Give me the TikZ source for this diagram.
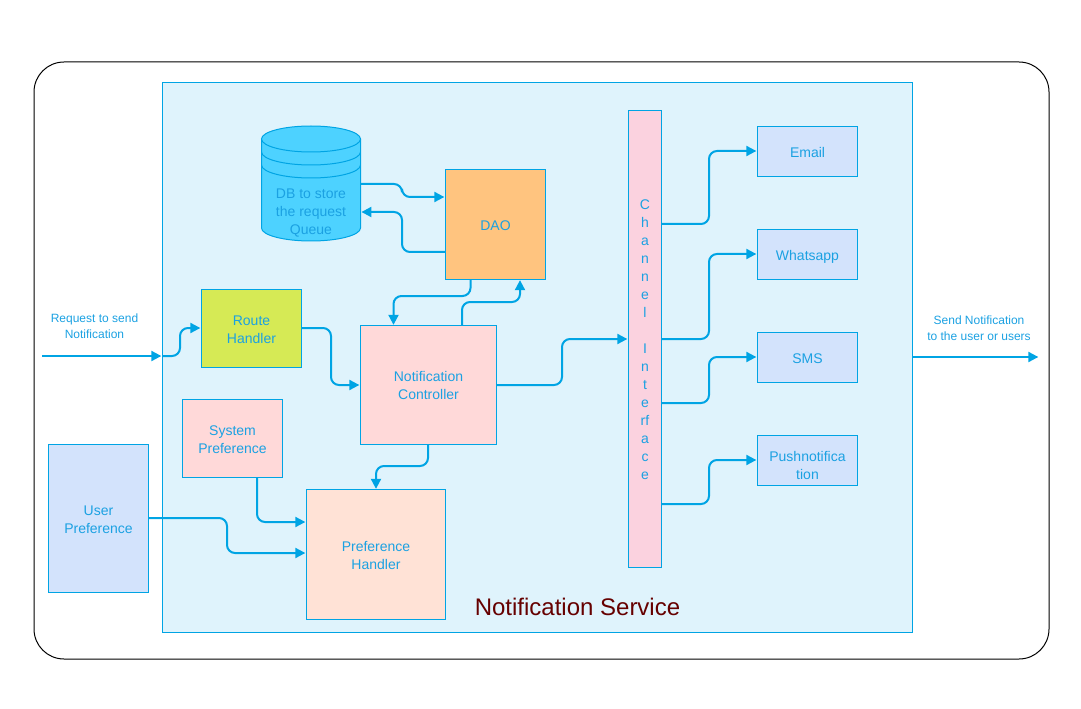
\documentclass[tikz,border=0pt]{standalone}
\usepackage{fontspec}
\setmainfont{Liberation Sans}
\usetikzlibrary{arrows.meta}
\definecolor{linkblue}{HTML}{00A4E4}
\definecolor{textblue}{HTML}{1BA1E2}
\definecolor{servicebg}{HTML}{DFF3FC}
\definecolor{dbfill}{HTML}{4DD2FF}
\definecolor{routefill}{HTML}{D6EA55}
\definecolor{pinkfill}{HTML}{FFD9D9}
\definecolor{daofill}{HTML}{FFC47F}
\definecolor{peachfill}{HTML}{FFE2D6}
\definecolor{channelfill}{HTML}{FBD2DF}
\definecolor{bluefill}{HTML}{D3E3FC}
\definecolor{titlered}{HTML}{660000}
\newcommand{\ls}{\rule[-2.36pt]{0pt}{13.5pt}}
\tikzset{
        boxtext/.style={align=center, text=textblue, inner sep=0pt,
                font=\fontsize{10.5}{13.5}\selectfont},
        box/.style={boxtext, draw=linkblue, line width=0.75pt},
        outbox/.style={box, fill=bluefill, minimum width=75pt, minimum height=37.5pt},
        smalllabel/.style={align=center, text=textblue, inner sep=0pt,
                font=\fontsize{9}{12}\selectfont},
        link/.style={draw=linkblue, line width=1.5pt, rounded corners=6pt,
                -{Triangle[length=7.5pt,width=7.5pt]}, shorten >=0.5pt}
}
\begin{document}
\begin{tikzpicture}[x=0.75pt, y=-0.75pt]
        \useasboundingbox (0,0) rectangle (1081,709);

        \node [draw=black, line width=0.75pt, rounded corners=22.5pt, minimum width=761.25pt, minimum height=447.75pt, inner sep=0pt] (outer) at (541.5,360.5) {};
        \node [box, fill=servicebg, minimum width=562.5pt, minimum height=412.5pt] (service) at (537.5,357.5) {};
        \node [text=titlered, inner sep=0pt, font=\fontsize{18}{22}\selectfont] (title) at (577.5,606.5) {Notification Service};

        % database drawn by hand
        \node [minimum width=74.25pt, minimum height=86.25pt, inner sep=0pt] (db) at (311,184) {};
        \draw [draw=linkblue, line width=0.75pt, fill=dbfill] (261.5,139) -- (261.5,228) arc [start angle=180, end angle=0, x radius=49.5, y radius=13] -- (360.5,139);
        \draw [draw=linkblue, line width=0.75pt, fill=dbfill] (311,139) ellipse [x radius=49.5, y radius=13];
        \draw [draw=linkblue, line width=0.75pt] (261.5,152) arc [start angle=180, end angle=0, x radius=49.5, y radius=13];
        \draw [draw=linkblue, line width=0.75pt] (261.5,165) arc [start angle=180, end angle=0, x radius=49.5, y radius=13];
        \node [boxtext] (dblabel) at (311,211) {\ls DB to store\\the request\\Queue\ls};

        \node [box, fill=daofill, minimum width=75pt, minimum height=82.5pt] (dao) at (495.5,224.5) {\ls DAO};
        \node [box, fill=routefill, minimum width=75pt, minimum height=58.5pt] (route) at (251.5,328.5) {\ls Route\\Handler\ls};
        \node [box, fill=pinkfill, minimum width=102pt, minimum height=89.25pt] (controller) at (428.5,385) {\ls Notification\\Controller\ls};
        \node [box, fill=pinkfill, minimum width=75pt, minimum height=58.5pt] (system) at (232.5,438.5) {\ls System\\Preference\ls};
        \node [box, fill=bluefill, minimum width=75pt, minimum height=111pt] (user) at (98.5,518.5) {\ls User\\Preference\ls};
        \node [box, fill=peachfill, minimum width=104.25pt, minimum height=97.5pt] (prefhandler) at (376,554.5) {\ls Preference\\Handler\ls};
        \node [box, fill=channelfill, minimum width=24.75pt, minimum height=342.75pt] (channel) at (645,339) {\ls C\\h\\a\\n\\n\\e\\l\\~\\I\\n\\t\\e\\rf\\a\\c\\e\ls};

        \node [outbox] (email) at (807.5,151.5) {\ls Email};
        \node [outbox] (whatsapp) at (807.5,254.5) {\ls Whatsapp};
        \node [outbox] (sms) at (807.5,357.5) {\ls SMS};
        \node [outbox] (push) at (807.5,460.5) {\rule{0pt}{17.14pt}Pushnotifica\\tion\ls};

        \node [smalllabel] (reqlabel) at (94.5,326) {Request to send\\Notification};
        \node [smalllabel] (sendlabel) at (979,328) {Send Notification\\to the user or users};

        \coordinate (reqstart) at (42,356);
        \coordinate (sendend) at (1039,357);

        \draw [link] (reqstart) -- (service.west |- reqstart);
        \draw [link] (service.west |- reqstart) -- (180,356) -- (180,328) -- (route.west |- 0,328);
        \draw [link] (route.east |- 0,328) -- (331,328) -- (331,385) -- (controller.west |- 0,385);
        \draw [link] (db.east |- 0,184) -- (402,184) -- (402,197) -- (dao.west |- 0,197);
        \draw [link] (dao.west |- 0,252) -- (402,252) -- (402,212) -- (db.east |- 0,212);
        \draw [link] (470.5,279.5) -- (470.5,296) -- (393.5,296) -- (393.5,325.5);
        \draw [link] (462,325.5) -- (462,302) -- (520,302) -- (520,279.5);
        \draw [link] (controller.east |- 0,385) -- (562,385) -- (562,339) -- (channel.west |- 0,339);

        \draw [link] (channel.east |- 0,224) -- (709,224) -- (709,151) -- (email.west |- 0,151);
        \draw [link] (channel.east |- 0,339) -- (709,339) -- (709,254) -- (whatsapp.west |- 0,254);
        \draw [link] (channel.east |- 0,403) -- (709,403) -- (709,357) -- (sms.west |- 0,357);
        \draw [link] (channel.east |- 0,504) -- (709,504) -- (709,460) -- (push.west |- 0,460);

        \draw [link] (257,477.5) -- (257,522) -- (prefhandler.west |- 0,522);
        \draw [link] (user.east |- 0,518) -- (227,518) -- (227,553) -- (prefhandler.west |- 0,553);
        \draw [link] (428,444.5) -- (428,466) -- (376,466) -- (376,489.5);

        \draw [link] (service.east |- sendend) -- (sendend);
\end{tikzpicture}
\end{document}
